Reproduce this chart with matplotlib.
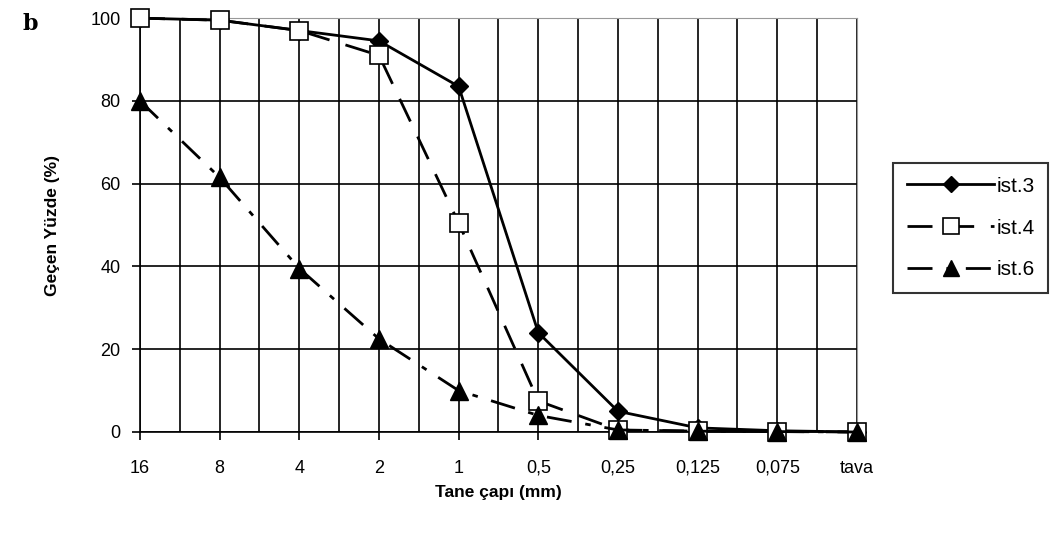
import numpy as np
import matplotlib.pyplot as plt

plt.rcParams['font.family'] = ['Liberation Sans Narrow', 'Liberation Sans', 'DejaVu Sans']

sizes = ['16', '8', '4', '2', '1', '0,5', '0,25', '0,125', '0,075', 'tava']
ist3 = [100, 99.5, 97, 94.5, 83.5, 24, 5, 1, 0.3, 0]
ist4 = [100, 99.5, 97, 91, 50.5, 7.5, 0.5, 0.2, 0.1, 0]
ist6 = [80, 61.5, 39.5, 22.5, 10, 4, 0.5, 0.2, 0.1, 0]

fig = plt.figure(figsize=(10.51, 5.33), dpi=100)
ax = fig.add_axes([0.1332, 0.1895, 0.6822, 0.7765])

x = np.arange(len(sizes))

# grid: every category and half-way between
for gx in np.arange(0, len(sizes) - 0.5, 0.5):
    ax.axvline(gx, color='black', lw=1.2, zorder=1)
for gy in range(0, 101, 20):
    ax.axhline(gy, color='black', lw=1.2, zorder=1)

ax.plot(x, ist3, '-', color='black', lw=2, marker='D', ms=9,
        mfc='black', mec='black', label='ist.3', zorder=3, clip_on=False)
ax.plot(x, ist4, color='black', lw=2, dashes=(9, 6), marker='s', ms=13,
        mfc='white', mec='black', mew=1.2, label='ist.4', zorder=4, clip_on=False)
ax.plot(x, ist6, color='black', lw=2, dashes=(9, 5, 2, 5), marker='^', ms=13,
        mfc='black', mec='black', label='ist.6', zorder=5, clip_on=False)

ax.set_xlim(0, len(sizes) - 1)
ax.set_ylim(0, 100)
ax.set_xticks(x)
ax.set_xticklabels(sizes)
ax.set_yticks(range(0, 101, 20))
ax.tick_params(axis='both', labelsize=13, length=6, width=1.2, color='black')
ax.tick_params(axis='x', pad=14)
ax.tick_params(axis='y', pad=8)

for s in ['top', 'right']:
    ax.spines[s].set_color('#999999')
for s in ['left', 'bottom']:
    ax.spines[s].set_linewidth(1.2)

ax.set_xlabel('Tane çapı (mm)', fontsize=12.5, fontweight='bold', labelpad=6)
ax.set_ylabel('Geçen Yüzde (%)', fontsize=12.5, fontweight='bold', labelpad=22)

fig.text(0.021, 0.955, 'b', fontsize=16, fontweight='bold', family='DejaVu Serif',
         va='center')

leg = fig.legend(loc='upper left', bbox_to_anchor=(0.85, 0.694), frameon=True,
                 fancybox=False, edgecolor='black', fontsize=15,
                 handlelength=4.2, handletextpad=0.1, borderpad=0.65,
                 borderaxespad=0, labelspacing=1.1, markerscale=0.85)
leg.get_frame().set_linewidth(1.5)

fig.savefig('out.png', dpi=100)
